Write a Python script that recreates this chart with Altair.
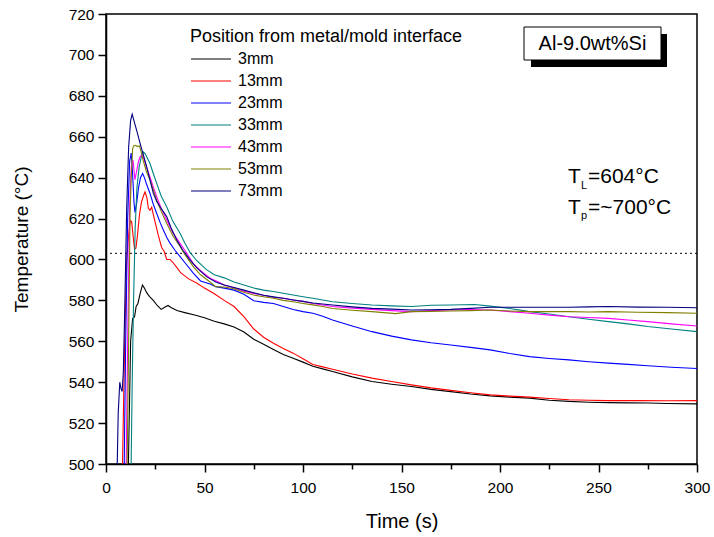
import altair as alt
import pandas as pd

positions = ["3mm", "13mm", "23mm", "33mm", "43mm", "53mm", "73mm"]
colors = ["#000000", "#FF0000", "#0000FF", "#008080", "#FF00FF", "#808000", "#000080"]

t_3mm = [11.0, 12.5, 13.5, 14.5, 15.3, 16.2, 17.5, 18.5, 19.5, 20.5, 22, 24, 26, 28, 30, 31.5, 33, 36, 40, 45,
         50, 55, 60, 65, 70, 75, 80, 85, 90, 95, 100, 105, 110, 115, 125, 135, 145, 155, 165, 175, 185, 195,
         205, 215, 225, 235, 245, 255, 265, 275, 285, 300]
T_3mm = [480, 560, 571, 572, 577, 578.5, 584, 587.5, 586, 584, 582, 580, 577.5, 575.6, 576.8, 577.5, 576.5, 575,
         574, 572.8, 571.5, 569.8, 568.5, 567, 564.5, 561, 558.5, 556, 553.5, 551.7, 549.8, 547.8, 546.5, 545.2,
         542.6, 540.3, 539, 537.9, 536.5, 535.4, 534.2, 533.3, 532.7, 532.2, 531.2, 530.6, 530.2, 530, 529.9,
         529.8, 529.6, 529.4]

t_13mm = [8, 9.5, 10.5, 11.5, 12.3, 13, 13.7, 14.5, 15.2, 16, 17, 18, 19, 19.8, 20.8, 21.5, 22.3, 23.2, 24, 25,
          26.5, 28.2, 29.5, 30.8, 32.5, 34, 36, 38, 42, 46, 50, 55, 60, 65, 70, 75, 80, 85, 90, 95, 100, 105,
          110, 115, 125, 135, 145, 155, 165, 175, 185, 195, 205, 215, 225, 235, 245, 255, 270, 285, 300]
T_13mm = [480, 560, 600, 612, 619, 618.5, 612, 605, 605.6, 612, 622, 628, 631, 633, 630, 625, 624, 625.5, 622,
          618, 612, 606, 604, 600, 600, 598.5, 596, 593.4, 590.5, 588.5, 586, 583.2, 580, 577, 572, 566, 562,
          559, 556.5, 554.2, 551.5, 548.6, 547.5, 546.3, 544, 542, 540.3, 538.7, 537.2, 536, 534.8, 533.8,
          533.2, 532.7, 532, 531.4, 531.2, 531, 531, 530.9, 531]

t_23mm = [9, 10, 11, 12, 12.8, 13.5, 14.2, 14.7, 15.5, 16.5, 17.5, 18.6, 19.5, 20.5, 22.3, 24, 25.7, 27.5, 29.1,
          31, 32.5, 35, 37.6, 40, 44.3, 48, 52.8, 55.7, 60, 65, 70, 75, 80, 85, 90, 95, 100, 105, 110, 115,
          125, 135, 145, 155, 165, 175, 185, 195, 205, 215, 225, 235, 245, 255, 265, 275, 287, 300]
T_23mm = [480, 560, 620, 648, 652, 642, 628, 623, 627, 635, 640, 642, 640, 637, 632.4, 627, 622.6, 618, 614.4,
          610.5, 608, 604.5, 601.4, 598.5, 593.3, 589.5, 588, 586.7, 586, 585, 583, 579.8, 579, 578.5, 577,
          575.5, 574.5, 573.7, 572.2, 570.4, 567.5, 564.7, 562.5, 560.7, 559.3, 558.2, 557, 555.8, 554, 552.5,
          551.6, 550.9, 550, 549.3, 548.7, 548, 547.3, 546.7]

t_33mm = [12.5, 13.3, 14, 14.8, 15.7, 16.8, 18, 19, 20, 21, 22.3, 24, 25.7, 28, 30.8, 34, 37.6, 40, 42.6, 46,
          51, 55, 60, 65, 70, 75, 80, 85, 90, 95, 100, 105, 110, 115, 125, 135, 145, 155, 165, 175, 187, 195,
          205, 215, 225, 235, 245, 255, 265, 275, 287, 300]
T_33mm = [480, 540, 580, 615, 635, 645, 650.5, 652.5, 651.5, 649.5, 647, 642, 637.3, 631, 625.8, 618.5, 612.8,
          608, 603.5, 599.5, 595, 592.5, 591, 589, 587.5, 586, 585, 584.3, 583.5, 582.6, 581.8, 581, 580.2,
          579.3, 578.5, 577.7, 577.3, 577, 577.6, 577.7, 578, 577.2, 576, 574.5, 573.3, 572, 570.8, 569.6,
          568.5, 567.2, 566, 564.7]

t_43mm = [10, 11, 12, 12.8, 13.7, 14.7, 15.5, 16.5, 17.5, 18.5, 19.5, 20.8, 22.3, 24, 25.7, 28, 30.8, 34, 37.6,
          40, 44.3, 48, 52.8, 56, 60, 65, 70, 75, 80, 85, 90, 95, 100, 105, 110, 115, 125, 135, 145, 155, 165,
          175, 185, 195, 205, 215, 225, 235, 245, 255, 265, 275, 287, 300]
T_43mm = [480, 560, 625, 645, 648.6, 639, 643, 648, 650.5, 651, 648.5, 644.5, 640.5, 635.5, 630.8, 625, 619.3,
          613, 607.9, 604.5, 598, 594.5, 590.8, 589.5, 587.5, 586, 584.5, 583.4, 582.5, 581.5, 581, 580.2,
          579.5, 578.5, 577.7, 577, 576.2, 575.6, 575, 574.5, 575, 575.3, 575.5, 575.3, 574.5, 573.7, 572.8,
          572, 571.6, 571.2, 570.4, 569.6, 568.5, 567.5]

t_53mm = [10.5, 11.5, 12.2, 12.8, 13.5, 14, 15, 16, 17, 18, 19, 20.5, 22.3, 24, 25.7, 28, 30.8, 34, 37.6, 40,
          44.3, 48, 52.8, 55.7, 60, 65, 70, 75, 80, 85, 90, 95, 100, 105, 110, 115, 125, 135, 147, 155, 165,
          175, 185, 195, 205, 215, 225, 235, 245, 255, 270, 285, 300]
T_53mm = [480, 560, 621, 640, 654, 655.5, 655.8, 655.2, 655.5, 652, 648, 643, 638.9, 634, 629, 623.5, 617.7,
          611.5, 606.3, 602.5, 596.5, 592.5, 589, 586.7, 586.5, 585.7, 584, 582.6, 581.8, 581, 580, 579.3,
          578.5, 577.8, 577, 576, 575.2, 574.5, 573.5, 574.5, 574.6, 574.8, 575, 575.3, 574.8, 574.5, 574.5,
          574.5, 574.3, 574.5, 574.2, 574, 573.7]

t_73mm = [5.5, 6.2, 7, 7.6, 8.2, 8.8, 9.6, 10.5, 11.5, 12.5, 13.3, 14, 15.6, 17.3, 19, 20.6, 22.3, 24, 25.7,
          27.4, 29, 30.8, 33, 35.9, 39, 42.6, 46, 51, 55.7, 60, 65, 70, 75, 80, 85, 90, 95, 100, 105, 110, 115,
          125, 135, 145, 155, 165, 175, 185, 195, 205, 215, 225, 235, 245, 255, 270, 285, 300]
T_73mm = [490, 525, 540, 537, 535.4, 545, 580, 625, 655, 668, 671, 668.5, 663, 656.8, 651, 645.4, 639, 632.4,
          628.5, 625.8, 623.5, 621, 615.5, 609.5, 604.5, 599.8, 596, 591.6, 589, 587.5, 586.3, 585, 583.7,
          582.5, 581.7, 581, 580.2, 579.5, 578.7, 578.2, 577.7, 576.8, 576.1, 575.7, 575.3, 575.4, 575.6,
          576.1, 576.6, 576.6, 576.6, 576.6, 576.6, 576.8, 577, 576.7, 576.6, 576.4]

series_t = [t_3mm, t_13mm, t_23mm, t_33mm, t_43mm, t_53mm, t_73mm]
series_T = [T_3mm, T_13mm, T_23mm, T_33mm, T_43mm, T_53mm, T_73mm]

liquidus = [603]
alloy_label = ["Al-9.0wt%Si"]

rows = []
for k, (name, ts, Ts) in enumerate(zip(positions, series_t, series_T)):
    for t, T in zip(ts, Ts):
        rows.append({"Position": name, "order": k, "Time": t, "Temp": T})
df = pd.DataFrame(rows)

FONT = "Liberation Sans"

x_axis = alt.Axis(
    title="Time (s)", values=list(range(0, 301, 25)),
    labelExpr="datum.value % 50 === 0 ? datum.label : ''",
    tickSize={"condition": {"test": "datum.value % 50 === 0", "value": 8}, "value": 5},
    labelFlush=False, grid=False, labelFontSize=15.5, titleFontSize=20, labelPadding=8,
    titlePadding=15.5, domainColor="black", tickColor="black", labelColor="black",
    domainWidth=1.5, tickWidth=1.5, titleFontWeight="normal", labelOverlap=False,
)
y_axis = alt.Axis(
    title="Temperature (°C)", values=list(range(500, 721, 10)),
    labelExpr="datum.value % 20 === 0 ? datum.label : ''",
    tickSize={"condition": {"test": "datum.value % 20 === 0", "value": 8}, "value": 5},
    grid=False, labelFontSize=15.5, titleFontSize=19, labelPadding=4, titlePadding=37,
    domainColor="black", tickColor="black", labelColor="black",
    domainWidth=1.5, tickWidth=1.5, titleFontWeight="normal", labelOverlap=False,
)

lines = alt.Chart(df).mark_line(strokeWidth=1.1, clip=True).encode(
    x=alt.X("Time:Q", scale=alt.Scale(domain=[0, 300], nice=False), axis=x_axis),
    y=alt.Y("Temp:Q", scale=alt.Scale(domain=[500, 720], nice=False, zero=False), axis=y_axis),
    color=alt.Color(
        "Position:N",
        scale=alt.Scale(domain=positions, range=colors),
        sort=positions,
        legend=alt.Legend(
            title="Position from metal/mold interface", orient="none", legendX=84, legendY=14,
            symbolType="stroke", symbolSize=1600, symbolStrokeWidth=1.2, clipHeight=20,
            rowPadding=2.0, labelFontSize=16, titleFontSize=18, titleFontWeight="normal",
            labelOffset=6, titlePadding=3, padding=0, labelColor="black", titleColor="black",
            titleLimit=400,
        ),
    ),
    order=alt.Order("Time:Q"),
    detail="order:N",
)

rule = alt.Chart(pd.DataFrame({"T": liquidus})).mark_rule(
    color="black", strokeDash=[2, 3], strokeWidth=1
).encode(y="T:Q")

box_df = pd.DataFrame({"label": alloy_label})
shadow = alt.Chart(box_df).mark_rect(color="black").encode(
    x=alt.value(425), x2=alt.value(561), y=alt.value(20), y2=alt.value(53)
)
box = alt.Chart(box_df).mark_rect(fill="white", stroke="black", strokeWidth=1).encode(
    x=alt.value(418), x2=alt.value(555), y=alt.value(13), y2=alt.value(46)
)
box_text = alt.Chart(box_df).mark_text(
    font=FONT, fontSize=20, align="center", baseline="middle", color="black"
).encode(text="label:N", x=alt.value(486.5), y=alt.value(30))

ann_df = pd.DataFrame({
    "main": ["T", "T"], "sub": ["L", "p"], "rest": ["=604°C", "=~700°C"],
    "yb": [169, 200], "ys": [175, 205],
})
ann_main = alt.Chart(ann_df).mark_text(
    font=FONT, fontSize=21, align="left", baseline="alphabetic", color="black"
).encode(text="main:N", x=alt.value(462), y=alt.Y("yb:Q", scale=None))
ann_sub = alt.Chart(ann_df).mark_text(
    font=FONT, fontSize=11, align="left", baseline="alphabetic", color="black"
).encode(text="sub:N", x=alt.value(475), y=alt.Y("ys:Q", scale=None))
ann_rest = alt.Chart(ann_df).mark_text(
    font=FONT, fontSize=21, align="left", baseline="alphabetic", color="black"
).encode(text="rest:N", x=alt.value(482), y=alt.Y("yb:Q", scale=None))

chart = alt.layer(
    rule, lines, shadow, box, box_text, ann_main, ann_sub, ann_rest
).resolve_scale(y="shared").properties(
    width=591, height=450,
    autosize=alt.AutoSizeParams(type="none"),
    padding={"left": 106, "top": 14, "right": 17, "bottom": 73},
).configure(font=FONT, background="white").configure_view(
    stroke="black", strokeWidth=1.5
)

chart.save("out.html", embed_options={"renderer": "svg", "actions": False})
